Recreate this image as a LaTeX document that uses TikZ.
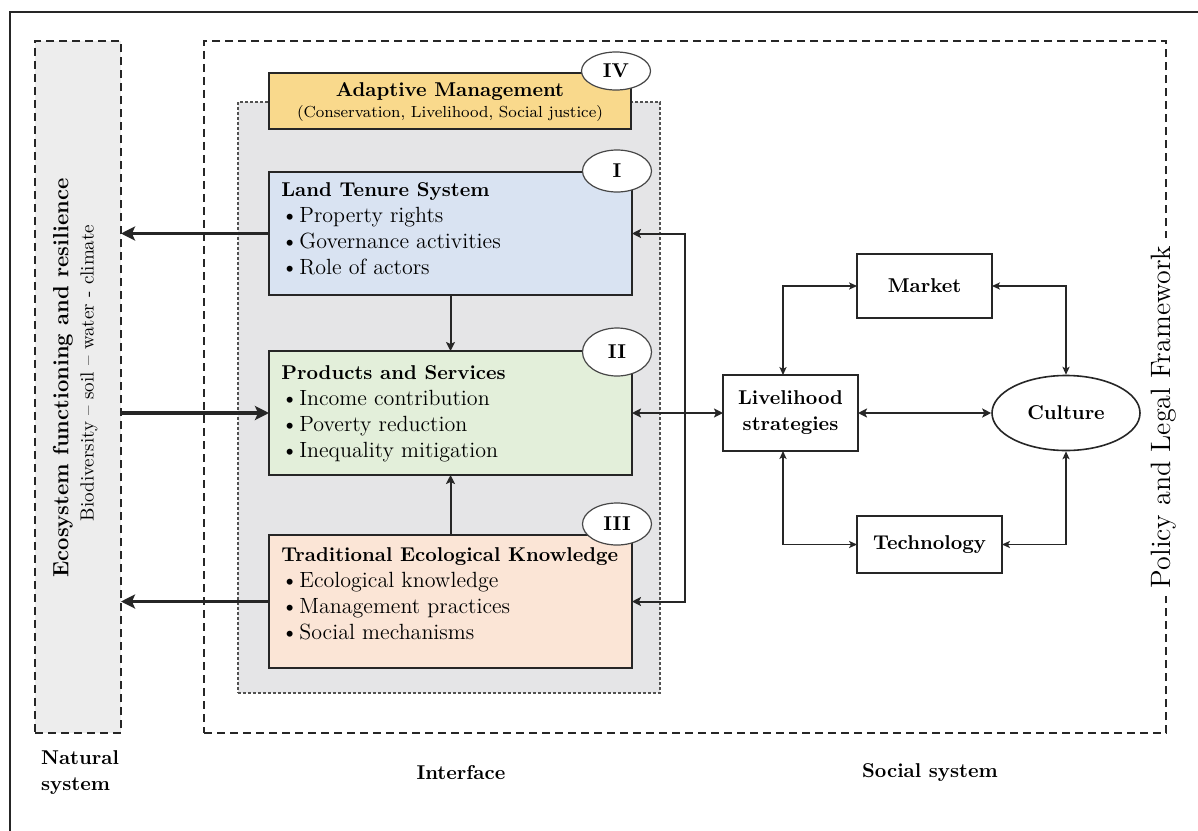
\documentclass[tikz,border=0pt]{standalone}
\usetikzlibrary{arrows.meta,shapes.geometric,calc}
\definecolor{yel}{HTML}{F9D98C}
\definecolor{blu}{HTML}{D9E3F2}
\definecolor{grn}{HTML}{E3EFDA}
\definecolor{pch}{HTML}{FBE5D6}
\definecolor{gbox}{HTML}{E5E5E7}
\definecolor{nbox}{HTML}{EDEDED}
\definecolor{edge}{HTML}{262626}
\newcommand\bul{\makebox[9pt][l]{\textbullet}}
\newcommand\ttlfont{\bfseries\fontsize{10}{13}\selectfont}
\begin{document}
\begin{tikzpicture}[x=0.5pt,y=-0.5pt,
  box/.style={draw=edge, line width=0.8pt, rectangle, inner sep=0pt, outer sep=0pt},
  dashbox/.style={draw=edge, line width=0.7pt, dash pattern=on 4pt off 2.5pt, rectangle, inner sep=0pt, outer sep=0pt},
  finedash/.style={draw=edge!80, line width=0.6pt, dash pattern=on 1.5pt off 1pt, rectangle, inner sep=0pt, outer sep=0pt},
  roman/.style={draw=edge!85, fill=white, ellipse, line width=0.6pt, inner sep=0pt, minimum width=34.5pt, font=\bfseries\fontsize{10}{11}\selectfont},
  txt/.style={align=left, inner sep=0pt, anchor=north west, font=\fontsize{11}{13}\selectfont},
  lab/.style={inner sep=0pt, font=\bfseries\fontsize{10}{13}\selectfont},
  thickarr/.style={draw=edge, line width=1.6pt, -{Stealth[length=7pt,width=7pt,inset=1.5pt]}},
  busarr/.style={draw=edge, line width=1pt, -{Stealth[length=4.5pt,width=4.5pt,inset=1pt]}},
  busboth/.style={draw=edge, line width=1pt, {Stealth[length=4.5pt,width=4.5pt,inset=1pt]}-{Stealth[length=4.5pt,width=4.5pt,inset=1pt]}},
  net/.style={draw=edge, line width=0.6pt, {Stealth[length=4pt,width=3.6pt,inset=1pt]}-{Stealth[length=4pt,width=3.6pt,inset=1pt]}},
  netthick/.style={draw=edge, line width=1.1pt, {Stealth[length=4.5pt,width=4.5pt,inset=1pt]}-{Stealth[length=4.5pt,width=4.5pt,inset=1pt]}}
]
\useasboundingbox (0,0) rectangle (1198,830);
\fill[white] (0,0) rectangle (1198,830);
% outer frame
\draw[edge, line width=0.8pt] (10,840) -- (10,12) -- (1210,12);

% system regions
\node[dashbox, minimum width=481pt, minimum height=346pt] (outer) at (685,387) {};
\node[dashbox, fill=nbox, minimum width=43pt, minimum height=346pt] (nat) at (78,387) {};
\node[finedash, fill=gbox, minimum width=211pt, minimum height=295.5pt] (iface) at (449,397.5) {};

% policy label on right border
\node[fill=white, inner sep=4pt, rotate=90, font=\fontsize{14}{16}\selectfont] (policy) at (1164,417) {Policy and Legal Framework};

% natural system text
\node[inner sep=0pt, rotate=90, font=\bfseries\fontsize{11}{13}\selectfont] (ecoT) at (63,378) {Ecosystem functioning and resilience};
\node[inner sep=0pt, rotate=90, font=\fontsize{9.5}{12}\selectfont] (bioT) at (89,373) {Biodiversity -- soil -- water - climate};

% interface boxes
\node[box, fill=yel, minimum width=181pt, minimum height=28pt] (adapt) at (450,101) {};
\node[inner sep=0pt, font=\bfseries\fontsize{10}{12}\selectfont] (adaptT) at (450,92) {Adaptive Management};
\node[inner sep=0pt, font=\fontsize{8}{10}\selectfont] (adaptS) at (450,113) {(Conservation, Livelihood, Social justice)};

\node[box, fill=blu, minimum width=181.5pt, minimum height=61.5pt] (lts) at (450.5,233.5) {};
\node[box, fill=grn, minimum width=181.5pt, minimum height=62pt] (prod) at (450.5,413) {};
\node[box, fill=pch, minimum width=181.5pt, minimum height=66.5pt] (tek) at (450.5,601.5) {};

\node[txt] (ltsT) at (281,182) {{\ttlfont Land Tenure System}\\ \bul Property rights\\ \bul Governance activities\\ \bul Role of actors};
\node[txt] (prodT) at (281,365) {{\ttlfont Products and Services}\\ \bul Income contribution\\ \bul Poverty reduction\\ \bul Inequality mitigation};
\node[txt] (tekT) at (281,547) {{\ttlfont Traditional Ecological Knowledge}\\ \bul Ecological knowledge\\ \bul Management practices\\ \bul Social mechanisms};

\node[roman, minimum height=19pt] (rIV) at (616,71) {IV};
\node[roman, minimum height=21pt] (rI) at (617,171) {I};
\node[roman, minimum height=24pt] (rII) at (617,352) {II};
\node[roman, minimum height=21pt] (rIII) at (617,524) {III};

% left thick arrows
\draw[thickarr] (lts.west) -- (lts.west -| nat.east);
\draw[thickarr] (nat.east |- prod.west) -- (prod.west);
\draw[thickarr] (tek.west) -- (tek.west -| nat.east);

% vertical arrows
\draw[busarr] (lts.south) -- (prod.north);
\draw[busarr] (tek.north) -- (prod.south);

% bus on the right
\coordinate (busM) at (685,413);
\draw[busarr] (busM) |- (lts.east);
\draw[busarr] (busM) |- (tek.east);

% social system
\node[box, lab, minimum width=67.5pt, minimum height=38pt, align=center] (live) at (790.5,413) {Livelihood\\strategies};
\node[box, lab, minimum width=67.5pt, minimum height=32pt] (market) at (924.5,286) {Market};
\node[box, lab, minimum width=72.5pt, minimum height=28.5pt] (tech) at (929.5,544.5) {Technology};
\node[draw=edge, line width=0.8pt, ellipse, lab, minimum width=74pt, minimum height=37.5pt] (cult) at (1066,413) {Culture};

\draw[busboth] (prod.east) -- (live.west);
\draw[net] ($(live.north west)+(60,0)$) |- (market.west);
\draw[net] ($(live.south west)+(60,0)$) |- (tech.west);
\draw[net] (market.east) -| (cult.north);
\draw[net] (tech.east) -| (cult.south);
\draw[netthick] (live.east) -- (cult.west);

% bottom labels
\node[lab, align=left] (natL) at (80,773) {Natural\\system};
\node[lab] (ifL) at (461,773) {Interface};
\node[lab] (socL) at (930,773) {Social system};
\end{tikzpicture}
\end{document}
